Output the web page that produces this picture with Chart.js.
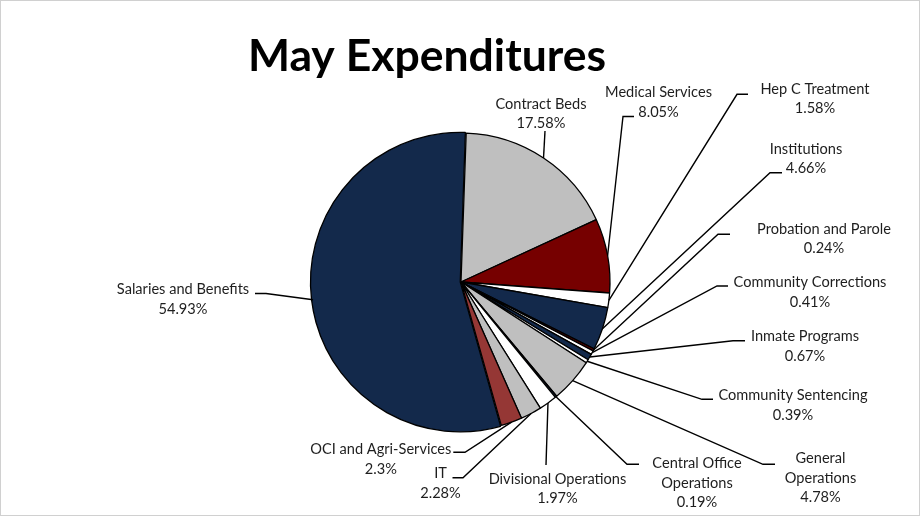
<!DOCTYPE html>
<html>
<head>
<meta charset="utf-8">
<title>May Expenditures</title>
<script src="https://cdn.jsdelivr.net/npm/chart.js@4.4.1/dist/chart.umd.min.js"></script>
<style>
  html, body { margin: 0; padding: 0; background: #fff; }
  #wrap { width: 920px; height: 516px; }
</style>
</head>
<body>
<div id="wrap"><canvas id="expenseChart" width="920" height="516"></canvas></div>
<script>
// slices, clockwise from the top
const categories = [
    'Contract Beds', 'Medical Services', 'Hep C Treatment', 'Institutions',
    'Probation and Parole', 'Community Corrections', 'Inmate Programs',
    'Community Sentencing', ['General', 'Operations'], ['Central Office', 'Operations'],
    'Divisional Operations', 'IT', 'OCI and Agri-Services', 'Salaries and Benefits'
];
const shares = [17.58, 8.05, 1.58, 4.66, 0.24, 0.41, 0.67, 0.39, 4.78, 0.19, 1.97, 2.28, 2.3, 54.93];

const NAVY = '#13294b', GRAY = '#bfbfbf', MAROON = '#760000', WHITE = '#ffffff', BRICK = '#953735';
const sliceColors = [GRAY, MAROON, WHITE, NAVY, MAROON, WHITE, NAVY, WHITE, GRAY, NAVY, WHITE, GRAY, BRICK, NAVY];

// where each label sits: text centre (first line), elbow of the leader, end of its short tail
const labelSpots = [
    { tx: 541,   ty: 104,   ex: 545, ey: 131,   hx: 545 },
    { tx: 658.5, ty: 92.5,  ex: 623, ey: 116.5, hx: 634 },
    { tx: 815,   ty: 89,    ex: 737, ey: 94.3,  hx: 748 },
    { tx: 806,   ty: 149,   ex: 770, ey: 172.7, hx: 782 },
    { tx: 824,   ty: 229,   ex: 718, ey: 234.3, hx: 730 },
    { tx: 810,   ty: 282.7, ex: 717, ey: 286,   hx: 728 },
    { tx: 805,   ty: 336.7, ex: 733, ey: 340.7, hx: 745 },
    { tx: 793,   ty: 395.7, ex: 702, ey: 399.3, hx: 713 },
    { tx: 820.5, ty: 458.3, ex: 763, ey: 464.3, hx: 775 },
    { tx: 697,   ty: 463.3, ex: 627, ey: 464.3, hx: 639 },
    { tx: 557.5, ty: 479,   ex: 546, ey: 465,   hx: 546 },
    { tx: 440.5, ty: 473.3, ex: 463, ey: 477.7, hx: 452.5 },
    { tx: 380.8, ty: 449.3, ex: 465, ey: 452.3, hx: 453.3 },
    { tx: 183,   ty: 289.3, ex: 266, ey: 293.5, hx: 255 }
];

const LABEL_FONT = '14.6px Lato, "Noto Sans", sans-serif';
const LINE_GAP = 19.6;

const calloutPlugin = {
    id: 'callouts',
    afterDraw(chart) {
        const ctx = chart.ctx;
        const arcs = chart.getDatasetMeta(0).data;
        ctx.save();

        // frame
        ctx.strokeStyle = '#d0d0d0';
        ctx.lineWidth = 1;
        ctx.strokeRect(0.5, 0.5, chart.width - 1, chart.height - 1);

        // heading
        ctx.fillStyle = '#000';
        ctx.font = 'bold 44.5px Lato, "Noto Sans", sans-serif';
        ctx.textAlign = 'center';
        ctx.textBaseline = 'alphabetic';
        ctx.fillText('May Expenditures', 427, 71);

        ctx.strokeStyle = '#000';
        ctx.lineWidth = 1.4;
        ctx.lineJoin = 'miter';
        ctx.font = LABEL_FONT;
        ctx.fillStyle = '#1e1e1e';
        ctx.textBaseline = 'middle';

        arcs.forEach((arc, i) => {
            const p = arc.getProps(['x', 'y', 'startAngle', 'endAngle', 'outerRadius'], true);
            const mid = (p.startAngle + p.endAngle) / 2;
            const sx = p.x + Math.cos(mid) * p.outerRadius;
            const sy = p.y + Math.sin(mid) * p.outerRadius;
            const s = labelSpots[i];

            ctx.beginPath();
            ctx.moveTo(sx, sy);
            ctx.lineTo(s.ex, s.ey);
            ctx.lineTo(s.hx, s.ey);
            ctx.stroke();

            const name = categories[i];
            const lines = (Array.isArray(name) ? name.slice() : [name]);
            lines.push(shares[i] + '%');
            lines.forEach((ln, k) => ctx.fillText(ln, s.tx, s.ty + k * LINE_GAP));
        });
        ctx.restore();
    }
};

new Chart(document.getElementById('expenseChart'), {
    type: 'pie',
    data: {
        labels: categories,
        datasets: [{
            data: shares,
            backgroundColor: sliceColors,
            borderColor: '#000',
            borderWidth: 1.3,
            radius: 149,
            offset: shares.map((v, i) => i === shares.length - 1 ? 3 : 0)
        }]
    },
    options: {
        responsive: false,
        animation: false,
        rotation: 2,
        layout: {
            padding: { left: 300, right: 298, top: 120, bottom: 72 }
        },
        events: [],
        plugins: {
            legend: { display: false },
            title: { display: false },
            tooltip: { enabled: false }
        }
    },
    plugins: [calloutPlugin]
});
</script>
</body>
</html>
